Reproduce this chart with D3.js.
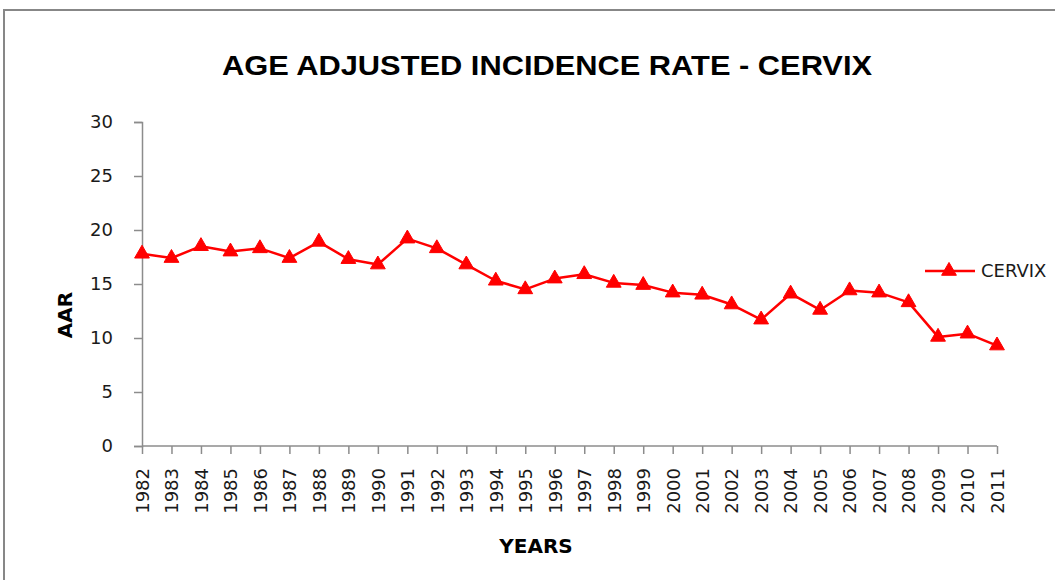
<!DOCTYPE html>
<html>
<head>
<meta charset="utf-8">
<script src="https://cdn.jsdelivr.net/npm/d3@7"></script>
<style>
  body { margin: 0; background: #fff; }
  svg { display: block; }
</style>
</head>
<body>
<div id="chart"></div>
<script>
const years = [1982, 1983, 1984, 1985, 1986, 1987, 1988, 1989, 1990, 1991,
  1992, 1993, 1994, 1995, 1996, 1997, 1998, 1999, 2000, 2001,
  2002, 2003, 2004, 2005, 2006, 2007, 2008, 2009, 2010, 2011];
const cervix = [17.8, 17.4, 18.5, 18.0, 18.3, 17.4, 18.9, 17.3, 16.8, 19.2,
  18.3, 16.8, 15.3, 14.5, 15.5, 15.9, 15.1, 14.9, 14.2, 14.0,
  13.1, 11.7, 14.1, 12.6, 14.4, 14.2, 13.3, 10.1, 10.4, 9.3];
const yTicks = [0, 5, 10, 15, 20, 25, 30];

const width = 1055, height = 580;
const margin = {top: 122, right: 58, bottom: 134, left: 142};
const red = "#ff0000", axisGrey = "#8c8c8c", textColour = "#1a1a1a";
const tickFont = "'DejaVu Sans', sans-serif";

const svg = d3.select("#chart").append("svg")
  .attr("width", width)
  .attr("height", height);

// outer frame (runs off the right and bottom edges)
svg.append("rect")
  .attr("x", 4).attr("y", 10)
  .attr("width", width + 20).attr("height", height + 20)
  .attr("fill", "#fff")
  .attr("stroke", "#878787")
  .attr("stroke-width", 2);

const x = d3.scalePoint().domain(years).range([margin.left, width - margin.right]);
const y = d3.scaleLinear().domain([0, 30]).range([height - margin.bottom, margin.top]);

svg.append("text")
  .attr("x", 222).attr("y", 75)
  .attr("font-family", "'Liberation Sans', Arial, sans-serif")
  .attr("font-weight", "bold")
  .attr("font-size", 28)
  .attr("textLength", 650)
  .attr("lengthAdjust", "spacingAndGlyphs")
  .attr("fill", "#000")
  .text("AGE ADJUSTED INCIDENCE RATE - CERVIX");

// y axis
const yAxis = svg.append("g")
  .attr("transform", `translate(${margin.left},0)`)
  .call(d3.axisLeft(y).tickValues(yTicks).tickSize(8).tickPadding(21));
yAxis.select(".domain").attr("stroke", axisGrey).attr("stroke-width", 1.5);
yAxis.selectAll(".tick line").attr("stroke", axisGrey).attr("stroke-width", 1.5);
yAxis.selectAll(".tick text")
  .attr("font-family", tickFont).attr("font-size", 18).attr("fill", textColour);

// x axis
const xAxis = svg.append("g")
  .attr("transform", `translate(0,${y(0)})`)
  .call(d3.axisBottom(x).tickSize(8).tickSizeOuter(0).tickPadding(0));
xAxis.select(".domain").attr("stroke", axisGrey).attr("stroke-width", 1.5)
  .attr("d", `M${x(years[0])},0H${x(years[years.length - 1])}`);
xAxis.selectAll(".tick line").attr("stroke", axisGrey).attr("stroke-width", 1.5);
xAxis.selectAll(".tick text")
  .attr("font-family", tickFont).attr("font-size", 18).attr("fill", textColour)
  .attr("text-anchor", "end")
  .attr("dy", "0.35em")
  .attr("transform", "translate(0,22) rotate(-90)")
  .attr("x", 0).attr("y", 0);

// axis titles
svg.append("text")
  .attr("transform", "translate(72,315) rotate(-90)")
  .attr("text-anchor", "middle")
  .attr("font-family", tickFont)
  .attr("font-weight", "bold")
  .attr("font-size", 20)
  .attr("fill", "#000")
  .text("AAR");

svg.append("text")
  .attr("x", 536).attr("y", 553)
  .attr("text-anchor", "middle")
  .attr("font-family", tickFont)
  .attr("font-weight", "bold")
  .attr("font-size", 20)
  .attr("fill", "#000")
  .text("YEARS");

// series
const points = years.map((yr, i) => ({year: yr, value: cervix[i]}));
const line = d3.line().x(d => x(d.year)).y(d => y(d.value));

svg.append("path")
  .datum(points)
  .attr("fill", "none")
  .attr("stroke", red)
  .attr("stroke-width", 2.5)
  .attr("stroke-linejoin", "round")
  .attr("d", line);

const triangle = d3.symbol().type(d3.symbolTriangle).size(95);

svg.append("g").selectAll("path")
  .data(points)
  .join("path")
    .attr("transform", d => `translate(${x(d.year)},${y(d.value)})`)
    .attr("d", triangle)
    .attr("fill", red)
    .attr("stroke", red)
    .attr("stroke-width", 1);

// legend
const legend = svg.append("g").attr("transform", "translate(925,271)");
legend.append("line")
  .attr("x1", 0).attr("x2", 50).attr("y1", 0).attr("y2", 0)
  .attr("stroke", red).attr("stroke-width", 2.5);
legend.append("path")
  .attr("transform", "translate(24,0)")
  .attr("d", triangle)
  .attr("fill", red).attr("stroke", red).attr("stroke-width", 1);
legend.append("text")
  .attr("x", 56).attr("y", 0)
  .attr("dy", "0.35em")
  .attr("font-family", tickFont).attr("font-size", 18).attr("fill", textColour)
  .text("CERVIX");
</script>
</body>
</html>
